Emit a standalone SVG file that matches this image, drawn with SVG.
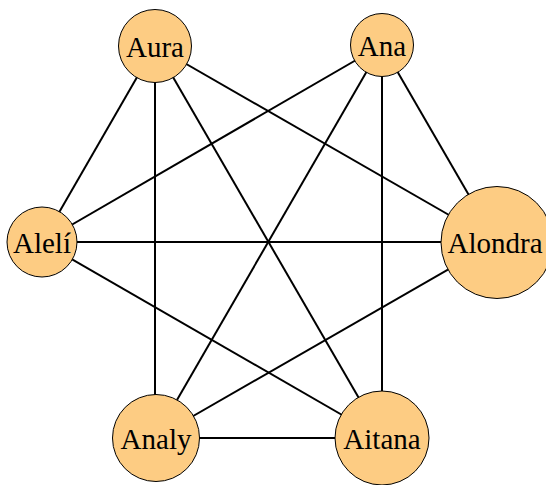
<svg xmlns="http://www.w3.org/2000/svg" width="546" height="485" viewBox="0 0 546 485">
<style>
.e{stroke:#000;stroke-width:2;fill:none}
.n circle{fill:#fdcc83;stroke:#000;stroke-width:1}
.n text{font-family:"Liberation Serif","DejaVu Serif",serif;font-size:29px;text-anchor:middle;fill:#000}
</style>
<rect width="546" height="485" fill="#fff"/>
<g id="edges" class="e">
<line x1="155" y1="46" x2="42" y2="242"/>
<line x1="155" y1="46" x2="155" y2="438"/>
<line x1="155" y1="46" x2="382" y2="438"/>
<line x1="155" y1="46" x2="496" y2="242"/>
<line x1="382" y1="45" x2="42" y2="242"/>
<line x1="382" y1="45" x2="155" y2="438"/>
<line x1="382" y1="45" x2="382" y2="438"/>
<line x1="382" y1="45" x2="496" y2="242"/>
<line x1="42" y1="242" x2="496" y2="242"/>
<line x1="42" y1="242" x2="382" y2="438"/>
<line x1="155" y1="438" x2="382" y2="438"/>
<line x1="155" y1="438" x2="496" y2="242"/>
</g>
<g id="aura" class="n"><circle cx="155" cy="46" r="36.5"/><text x="155" y="56.5">Aura</text></g>
<g id="ana" class="n"><circle cx="382" cy="45" r="31.5"/><text x="382" y="55.5">Ana</text></g>
<g id="aleli" class="n"><circle cx="42" cy="242" r="35"/><text x="42" y="252.5">Alelí</text></g>
<g id="alondra" class="n"><circle cx="497" cy="242.5" r="56"/><text x="495" y="253">Alondra</text></g>
<g id="analy" class="n"><circle cx="156" cy="438" r="43.5"/><text x="156" y="448.5">Analy</text></g>
<g id="aitana" class="n"><circle cx="382" cy="438" r="47"/><text x="382" y="448.5">Aitana</text></g>
</svg>
